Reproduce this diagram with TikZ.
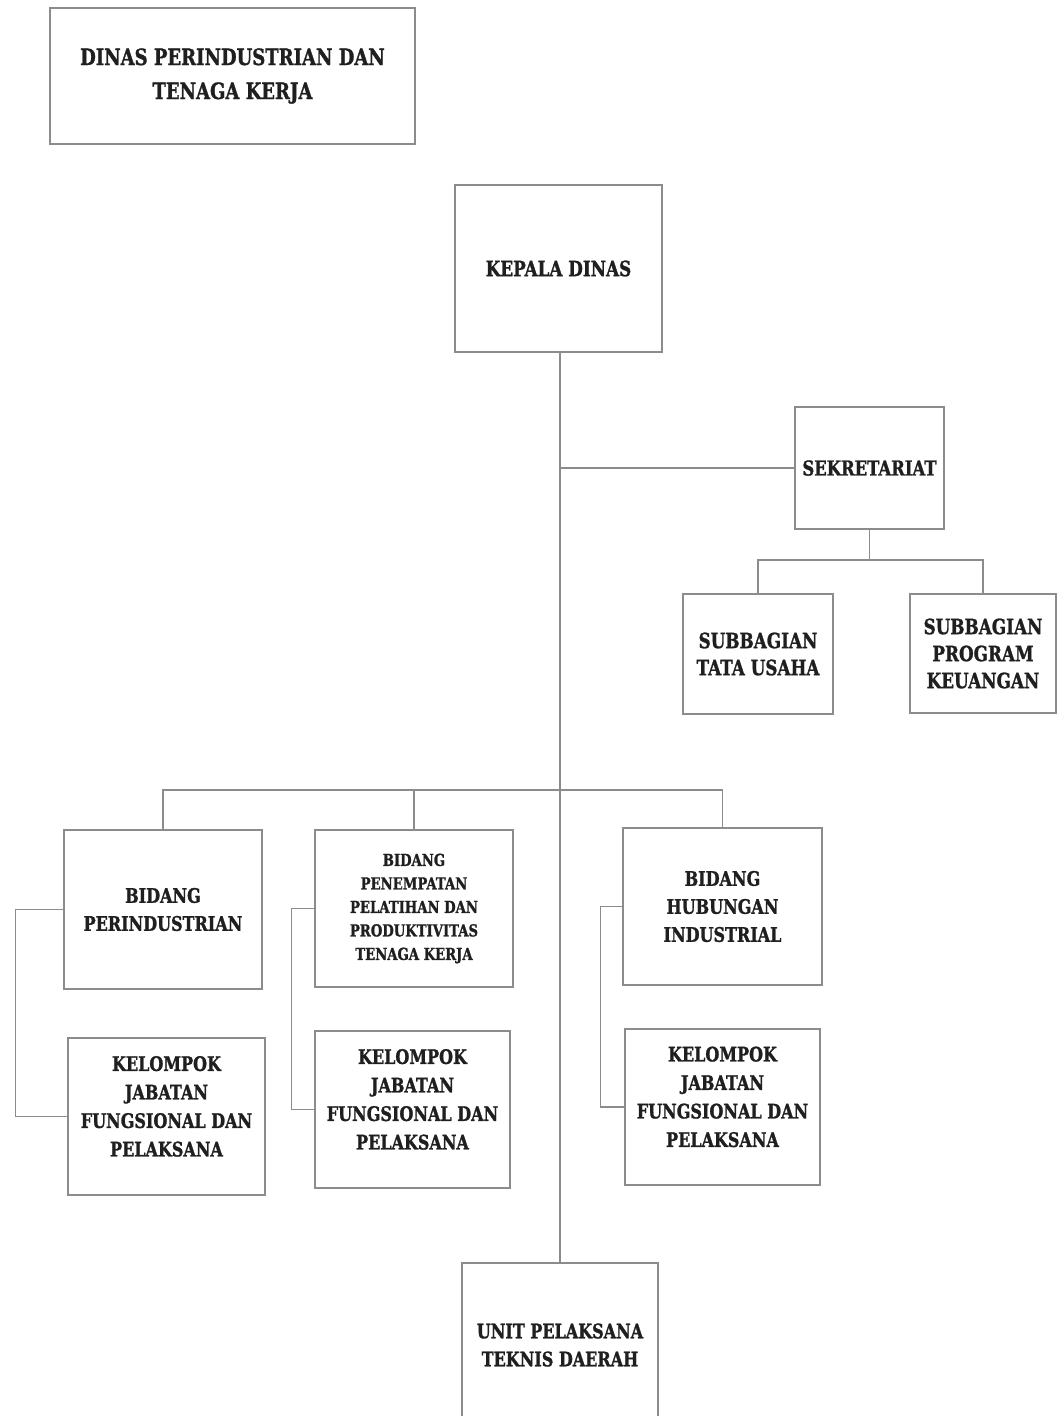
\documentclass[tikz,border=0pt]{standalone}
\usepackage{fontspec}
\setmainfont{DejaVu Serif}[FakeStretch=0.8, BoldFeatures={FakeBold=1.2}]
\begin{document}
\begin{tikzpicture}[x=1pt,y=-1pt,
  box/.style={draw=black!45, line width=1.3pt, inner sep=0pt, align=center, text=black!88,
     font=\bfseries\fontsize{20}{28}\selectfont},
  kel/.style={box, font=\bfseries\fontsize{20}{28.5}\selectfont},
  conn/.style={draw=black!45, line width=1.3pt}]
\useasboundingbox[fill=white] (0,0) rectangle (1057,1416);
\node[box, minimum width=365pt, minimum height=136pt, font=\bfseries\fontsize{22.5}{34}\selectfont] (title) at (232.5,76) {DINAS PERINDUSTRIAN DAN\\TENAGA KERJA};
\node[box, minimum width=207pt, minimum height=167pt, font=\bfseries\fontsize{21}{28}\selectfont] (kepala) at (558.5,268.5) {KEPALA DINAS};
\node[box, minimum width=149pt, minimum height=122pt, font=\bfseries\fontsize{20.5}{28}\selectfont] (sek) at (869.5,468) {SEKRETARIAT};
\node[box, minimum width=150pt, minimum height=120pt, font=\bfseries\fontsize{21}{27}\selectfont] (sub1) at (758,654) {SUBBAGIAN\\TATA USAHA};
\node[box, minimum width=146pt, minimum height=119pt, font=\bfseries\fontsize{21}{27}\selectfont] (sub2) at (983,653.5) {SUBBAGIAN\\PROGRAM\\KEUANGAN};
\node[box, minimum width=198pt, minimum height=159pt] (bid1) at (163,909.5) {BIDANG\\PERINDUSTRIAN};
\node[box, minimum width=198pt, minimum height=157pt, font=\bfseries\fontsize{16.5}{23.5}\selectfont] (bid2) at (414,908.5) {BIDANG\\PENEMPATAN\\PELATIHAN DAN\\PRODUKTIVITAS\\TENAGA KERJA};
\node[box, minimum width=199pt, minimum height=157pt] (bid3) at (722.5,906.5) {BIDANG\\HUBUNGAN\\INDUSTRIAL};
\node[kel, minimum width=197pt, minimum height=157pt] (kel1) at (166.5,1116.5) {KELOMPOK\\JABATAN\\FUNGSIONAL DAN\\PELAKSANA\\[-8pt]\mbox{}};
\node[kel, minimum width=195pt, minimum height=157pt] (kel2) at (412.5,1109.5) {KELOMPOK\\JABATAN\\FUNGSIONAL DAN\\PELAKSANA\\[-8pt]\mbox{}};
\node[kel, minimum width=195pt, minimum height=156pt] (kel3) at (722.5,1107) {KELOMPOK\\JABATAN\\FUNGSIONAL DAN\\PELAKSANA\\[-8pt]\mbox{}};
\node[box, minimum width=196pt, minimum height=164pt, font=\bfseries\fontsize{20}{28}\selectfont] (unit) at (560,1345) {UNIT PELAKSANA\\TEKNIS DAERAH};
\coordinate (bar) at (560,790);
\coordinate (sekbar) at (869.5,560);
% trunk
\path[conn] (kepala.south -| unit.north) -- (unit.north);
\path[conn] (sek.west -| unit.north) -- (sek.west);
% secretariat children
\path[conn] (sek.south) -- (sekbar);
\path[conn] (sub1.north) -- (sub1.north |- sekbar) -- (sub2.north |- sekbar) -- (sub2.north);
% bidang bar
\path[conn] (bid1.north) -- (bid1.north |- bar) -- (bid3.north |- bar) -- (bid3.north);
\path[conn] (bid2.north) -- (bid2.north |- bar);
% brackets
\path[conn] (bid1.west) -- ++(-48,0) |- (kel1.west);
\path[conn] (bid2.west) -- ++(-23,0) |- (kel2.west);
\path[conn] (bid3.west) -- ++(-22,0) |- (kel3.west);
\end{tikzpicture}
\end{document}
